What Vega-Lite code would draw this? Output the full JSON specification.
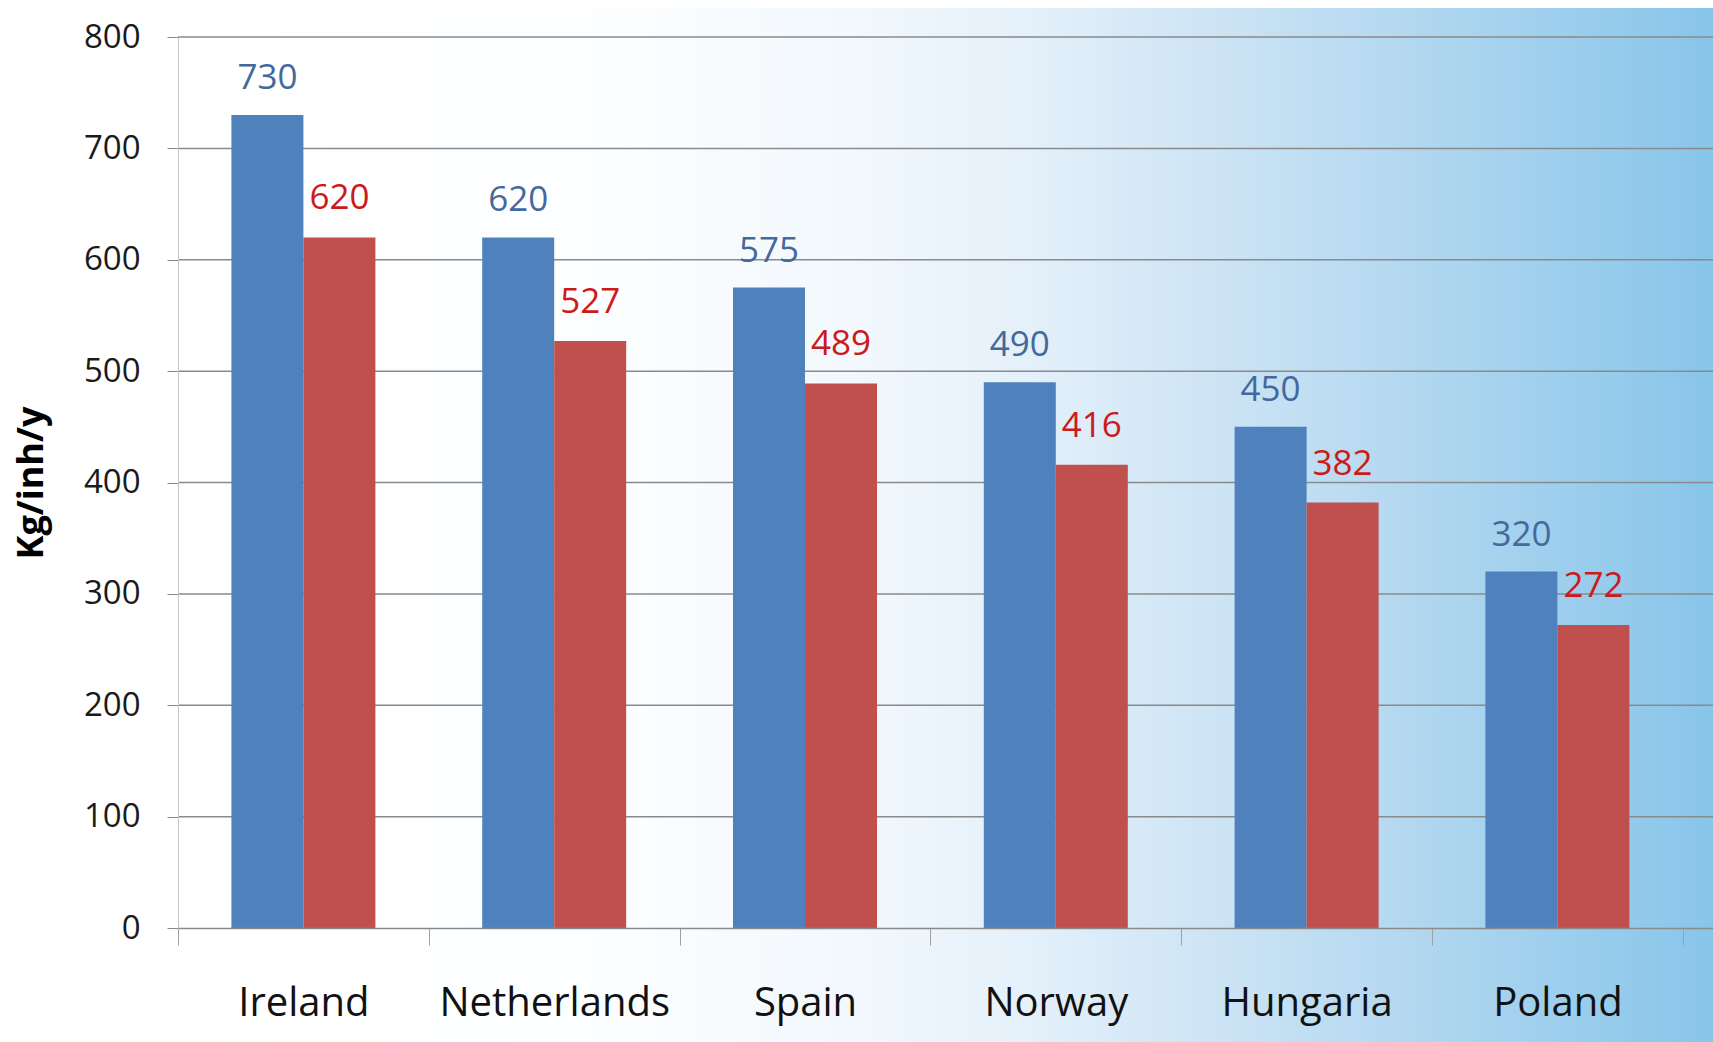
{
  "$schema": "https://vega.github.io/schema/vega-lite/v6.json",
  "width": 1535,
  "height": 891,
  "autosize": {"type": "none"},
  "padding": {"left": 178, "top": 37, "right": 0, "bottom": 114},
  "background": "#ffffff",
  "config": {
    "view": {"stroke": null},
    "axisY": {
      "titleFont": "Open Sans", "titleFontSize": 36, "titleFontWeight": "bold",
      "titleColor": "#000000", "titlePadding": 33,
      "tickSize": 11, "tickColor": "#8a8a8a", "domainColor": "#c4c4c4",
      "labelFont": "Open Sans", "labelFontSize": 33, "labelColor": "#1a1a1a", "labelPadding": 27,
      "grid": false
    },
    "axisX": {
      "tickBand": "extent", "tickSize": 17, "tickColor": "#a0a0a0",
      "domainColor": "#8a8a8a", "domainWidth": 1.5, "labelFont": "Open Sans", "labelFontSize": 40,
      "labelColor": "#111111", "labelPadding": 38, "labelAngle": 0, "labelLimit": 400, "grid": false
    }
  },
  "datasets": {
    "bars": [
      {"country": "Ireland", "series": "Series 1", "value": 730},
      {"country": "Ireland", "series": "Series 2", "value": 620},
      {"country": "Netherlands", "series": "Series 1", "value": 620},
      {"country": "Netherlands", "series": "Series 2", "value": 527},
      {"country": "Spain", "series": "Series 1", "value": 575},
      {"country": "Spain", "series": "Series 2", "value": 489},
      {"country": "Norway", "series": "Series 1", "value": 490},
      {"country": "Norway", "series": "Series 2", "value": 416},
      {"country": "Hungaria", "series": "Series 1", "value": 450},
      {"country": "Hungaria", "series": "Series 2", "value": 382},
      {"country": "Poland", "series": "Series 1", "value": 320},
      {"country": "Poland", "series": "Series 2", "value": 272}
    ],
    "grid": [{"v": 100}, {"v": 200}, {"v": 300}, {"v": 400}, {"v": 500}, {"v": 600}, {"v": 700}, {"v": 800}]
  },
  "layer": [
    {
      "data": {"values": [{}]},
      "mark": {
        "type": "rect",
        "clip": false,
        "fill": {
          "gradient": "linear",
          "x1": 0, "y1": 0, "x2": 1, "y2": 0,
          "stops": [
            {"offset": 0, "color": "#ffffff"},
            {"offset": 0.27, "color": "#fdfeff"},
            {"offset": 0.44, "color": "#f2f8fd"},
            {"offset": 0.555, "color": "#e4f0fa"},
            {"offset": 0.666, "color": "#cfe5f5"},
            {"offset": 0.8, "color": "#b3d8f0"},
            {"offset": 1, "color": "#88c5ea"}
          ]
        }
      },
      "encoding": {
        "y": {"datum": 826, "type": "quantitative", "title": "Kg/inh/y", "scale": {"domain": [0, 800], "nice": false}, "axis": {"values": [0, 100, 200, 300, 400, 500, 600, 700, 800], "zindex": 1}},
        "y2": {"datum": -103}
      }
    },
    {
      "data": {"name": "grid"},
      "mark": {"type": "rule", "color": "#8a8a8a", "strokeWidth": 1.5},
      "encoding": {
        "y": {"field": "v", "type": "quantitative", "title": "Kg/inh/y", "scale": {"domain": [0, 800], "nice": false}, "axis": {"values": [0, 100, 200, 300, 400, 500, 600, 700, 800], "zindex": 1}}
      }
    },
    {
      "data": {"name": "bars"},
      "mark": {"type": "bar"},
      "encoding": {
        "x": {
          "field": "country", "type": "nominal", "sort": null, "title": null,
          "scale": {"paddingInner": 0, "paddingOuter": 0.0602, "align": 0},
          "axis": {"zindex": 1}
        },
        "xOffset": {"field": "series", "type": "nominal", "scale": {"paddingInner": 0, "paddingOuter": 0.7417}},
        "y": {"field": "value", "type": "quantitative", "title": "Kg/inh/y", "scale": {"domain": [0, 800], "nice": false}, "axis": {"values": [0, 100, 200, 300, 400, 500, 600, 700, 800], "zindex": 1}},
        "color": {
          "field": "series", "type": "nominal",
          "scale": {"domain": ["Series 1", "Series 2"], "range": ["#4f81bd", "#c0504d"]},
          "legend": null
        }
      }
    },
    {
      "data": {"name": "bars"},
      "transform": [{"filter": "datum.series === 'Series 1'"}],
      "mark": {"type": "text", "font": "Open Sans", "fontSize": 35, "color": "#44699c", "baseline": "alphabetic", "dy": -26},
      "encoding": {
        "x": {"field": "country", "type": "nominal", "sort": null, "title": null, "axis": {"zindex": 1}},
        "xOffset": {"field": "series", "type": "nominal"},
        "y": {"field": "value", "type": "quantitative", "title": "Kg/inh/y", "axis": {"values": [0, 100, 200, 300, 400, 500, 600, 700, 800], "zindex": 1}},
        "text": {"field": "value", "type": "quantitative"}
      }
    },
    {
      "data": {"name": "bars"},
      "transform": [{"filter": "datum.series === 'Series 2'"}],
      "mark": {"type": "text", "font": "Open Sans", "fontSize": 35, "color": "#cc1a1a", "baseline": "alphabetic", "dy": -28},
      "encoding": {
        "x": {"field": "country", "type": "nominal", "sort": null, "title": null, "axis": {"zindex": 1}},
        "xOffset": {"field": "series", "type": "nominal"},
        "y": {"field": "value", "type": "quantitative", "title": "Kg/inh/y", "axis": {"values": [0, 100, 200, 300, 400, 500, 600, 700, 800], "zindex": 1}},
        "text": {"field": "value", "type": "quantitative"}
      }
    }
  ]
}
